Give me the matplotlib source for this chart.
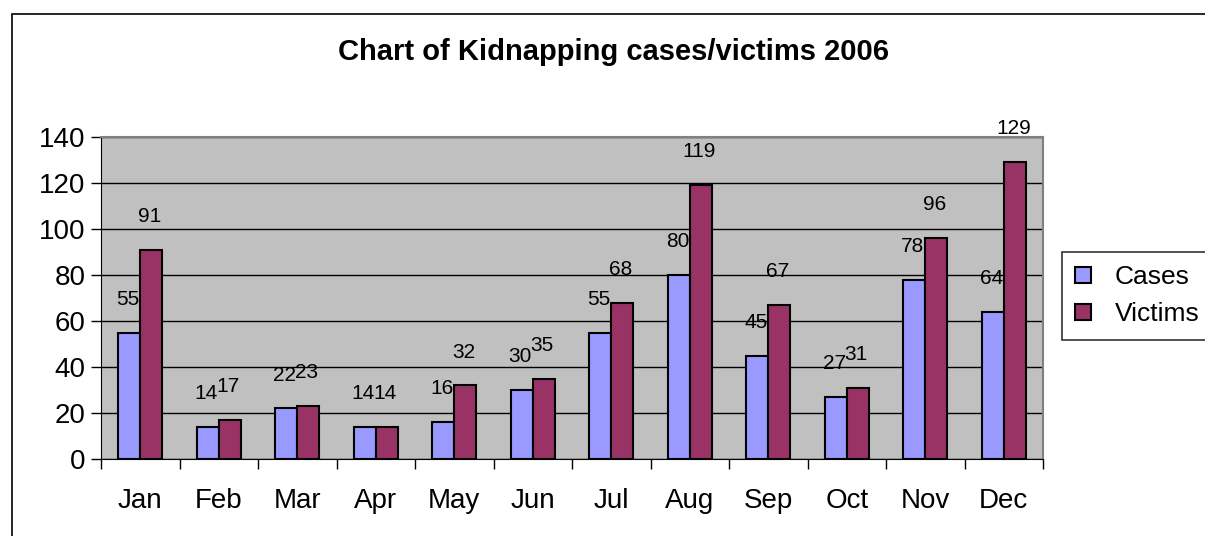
import matplotlib
matplotlib.use('Agg')
import matplotlib.pyplot as plt
import numpy as np
from matplotlib.patches import Rectangle, Patch

plt.rcParams['font.family'] = ['Liberation Sans', 'DejaVu Sans']

# data
months = ['Jan', 'Feb', 'Mar', 'Apr', 'May', 'Jun', 'Jul', 'Aug', 'Sep', 'Oct', 'Nov', 'Dec']
cases = [55, 14, 22, 14, 16, 30, 55, 80, 45, 27, 78, 64]
victims = [91, 17, 23, 14, 32, 35, 68, 119, 67, 31, 96, 129]

fig = plt.figure(figsize=(12.05, 5.36), dpi=100)
fig.patch.set_facecolor('white')

# outer chart border (runs off the right and bottom edges)
fig.patches.append(Rectangle((12 / 1205, -0.1), 1.2, (536 - 14) / 536 + 0.1,
                             transform=fig.transFigure, fill=False,
                             edgecolor='black', linewidth=1.2))

ax = fig.add_axes([101 / 1205, 77 / 536, 942 / 1205, 322 / 536])
ax.set_facecolor('#C0C0C0')

x = np.arange(len(months))
w = 0.28
b1 = ax.bar(x - w / 2, cases, w, color='#9999FF', edgecolor='black', linewidth=1.5, zorder=3)
b2 = ax.bar(x + w / 2, victims, w, color='#993366', edgecolor='black', linewidth=1.5, zorder=3)

# value labels above bars
for bars, vals in ((b1, cases), (b2, victims)):
    for r, v in zip(bars, vals):
        ax.annotate(str(v), (r.get_x() + r.get_width() / 2, v), xytext=(-1, 24),
                    textcoords='offset points', ha='center', va='center',
                    fontsize=15, zorder=4, annotation_clip=False)

ax.set_xlim(-0.5, len(months) - 0.5)
ax.set_ylim(0, 140)
ax.set_yticks(range(0, 141, 20))
ax.yaxis.grid(True, color='black', linewidth=1)
ax.set_axisbelow(True)

# category ticks between groups, labels at centres
ax.set_xticks(np.arange(-0.5, len(months), 1))
ax.set_xticklabels([])
ax.set_xticks(x, minor=True)
ax.set_xticklabels(months, minor=True, fontsize=20)
ax.tick_params(axis='x', which='minor', length=0, pad=21)
ax.tick_params(axis='x', which='major', direction='out', length=7, width=1)
ax.tick_params(axis='y', direction='out', length=7, width=1, labelsize=20, pad=4)

for s in ['top', 'right']:
    ax.spines[s].set_color('#808080')
    ax.spines[s].set_linewidth(1.5)
ax.spines['left'].set_color('black')
ax.spines['bottom'].set_color('black')

fig.text(613 / 1205, 1 - 52 / 536, 'Chart of Kidnapping cases/victims 2006',
         ha='center', va='center', fontsize=21, fontweight='bold')

handles = [Patch(facecolor='#9999FF', edgecolor='black', linewidth=1.5),
           Patch(facecolor='#993366', edgecolor='black', linewidth=1.5)]
leg = fig.legend(handles, ['Cases', 'Victims'], loc='upper left',
                 bbox_to_anchor=(1062 / 1205, 1 - 252 / 536), fontsize=19,
                 frameon=True, fancybox=False, edgecolor='black',
                 handlelength=0.6, handleheight=0.6, handletextpad=0.9,
                 labelspacing=0.5, borderpad=0.5, borderaxespad=0)
leg.get_frame().set_linewidth(1.2)

fig.savefig('out.png', dpi=100)
